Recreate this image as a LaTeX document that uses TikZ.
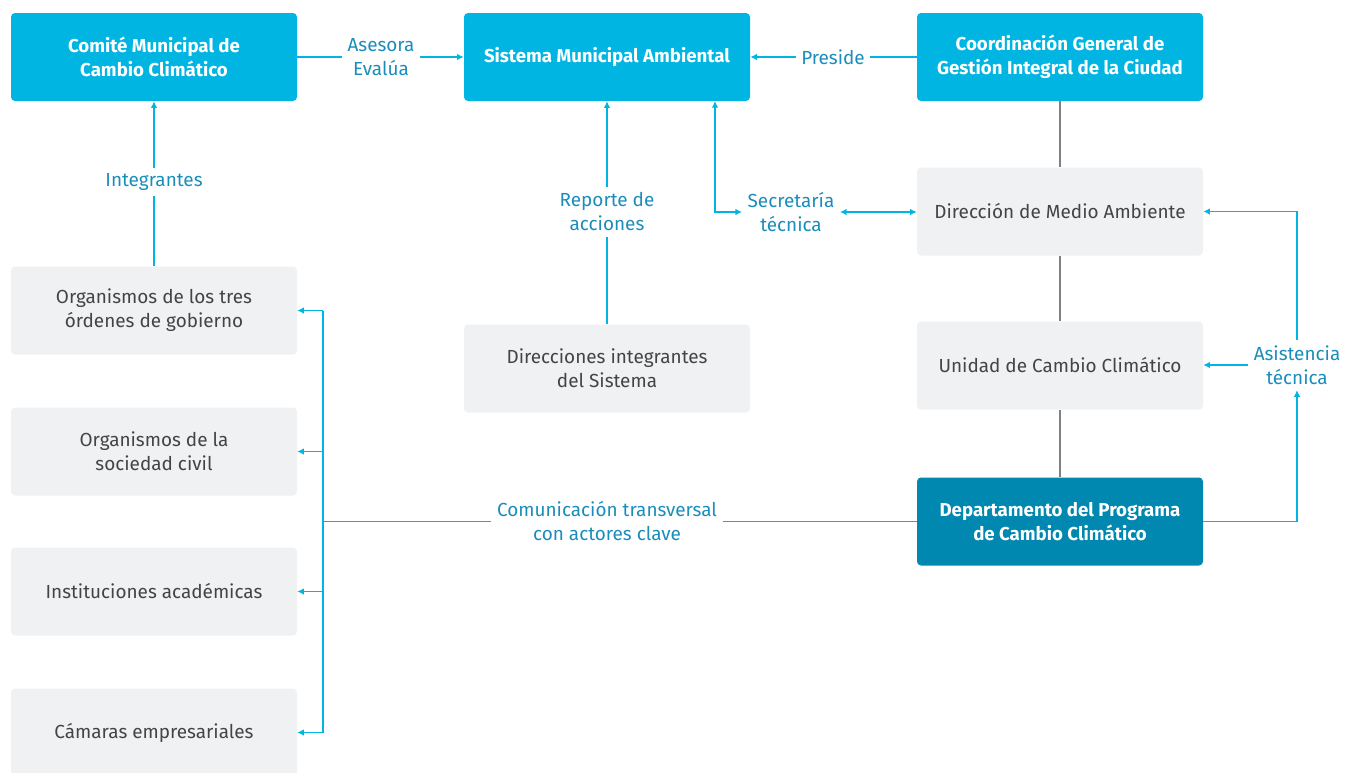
\documentclass[tikz,border=0pt]{standalone}
\usepackage{fontspec}
\setmainfont{Fira Sans}
\usetikzlibrary{arrows.meta}
\definecolor{cy}{HTML}{00B5E2}
\definecolor{dk}{HTML}{0088B0}
\definecolor{gb}{HTML}{F0F1F3}
\definecolor{lt}{HTML}{1A8DBB}
\definecolor{gt}{HTML}{444444}
\definecolor{gl}{HTML}{808080}
\begin{document}
\begin{tikzpicture}[x=0.75pt,y=-0.75pt,
  font=\fontsize{14.2}{18}\selectfont,
  box/.style={minimum width=214.5pt,minimum height=66pt,rounded corners=3pt,align=center,inner sep=0pt},
  topbox/.style={box,fill=cy,text=white,font=\fontsize{14}{18}\selectfont\bfseries},
  darkbox/.style={box,fill=dk,text=white,font=\fontsize{14}{18}\selectfont\bfseries},
  graybox/.style={box,fill=gb,text=gt},
  lab/.style={text=lt,align=center,inner sep=4pt},
  conn/.style={draw=cy,line width=1.1pt},
  arr/.style={conn,-{Latex[length=5pt,width=5pt]}},
  darr/.style={conn,{Latex[length=5pt,width=5pt]}-{Latex[length=5pt,width=5pt]}},
  gline/.style={draw=gl,line width=1.5pt}]
\useasboundingbox (0,0) rectangle (1359,772);
\begin{scope}
\clip (0,0) rectangle (1359,772);
\node[topbox] (comite) at (154,57) {Comité Municipal de\\Cambio Climático};
\node[topbox] (sistema) at (607,57) {Sistema Municipal Ambiental};
\node[topbox] (coord) at (1060,57) {Coordinación General de\\Gestión Integral de la Ciudad};
\node[graybox] (dir) at (1060,211.5) {Dirección de Medio Ambiente};
\node[graybox] (unidad) at (1060,365.5) {Unidad de Cambio Climático};
\node[darkbox] (depto) at (1060,521.5) {Departamento del Programa\\de Cambio Climático};
\node[graybox] (dirint) at (607,368.5) {Direcciones integrantes\\del Sistema};
\node[graybox] (org1) at (154,310.5) {Organismos de los tres\\órdenes de gobierno};
\node[graybox] (org2) at (154,451.5) {Organismos de la\\sociedad civil};
\node[graybox] (org3) at (154,591.5) {Instituciones académicas};
\node[graybox] (org4) at (154,732.5) {Cámaras empresariales};
\end{scope}

\node[lab] (asesora) at (381,57) {Asesora\\Evalúa};
\node[lab] (preside) at (833,57) {Preside};
\node[lab] (integ) at (154,182) {Integrantes};
\node[lab] (reporte) at (607,212) {Reporte de\\acciones};
\node[lab] (secr) at (791,212) {Secretaría\\técnica};
\node[lab] (asist) at (1297,365) {Asistencia\\técnica};
\node[lab] (com) at (607,521.5) {Comunicación transversal\\con actores clave};

\draw[conn] (comite.east) -- (asesora.west);
\draw[arr] (asesora.east) -- (sistema.west);
\draw[conn] (coord.west) -- (preside.east);
\draw[arr] (preside.west) -- (sistema.east);
\draw[conn] (org1.north) -- (integ.south);
\draw[arr] (integ.north) -- (comite.south);
\draw[conn] (dirint.north) -- (reporte.south);
\draw[arr] (reporte.north) -- (sistema.south);
\coordinate (s1) at (715,101);
\draw[darr] (s1) |- (secr.west);
\draw[darr] (secr.east) -- (secr.east -| dir.west);
\draw[gline] (coord.south) -- (dir.north);
\draw[gline] (dir.south) -- (unidad.north);
\draw[gline] (unidad.south) -- (depto.north);
\draw[arr] (depto.east) -| (asist.south);
\draw[arr] (asist.north) |- (dir.east);
\draw[arr] (asist.west) -- (asist.west -| unidad.east);
\coordinate (b1) at (323,310.5);
\coordinate (b4) at (323,732.5);
\draw[conn] (depto.west) -- (com.east);
\draw[conn] (com.west) -- (com.west -| b1);
\draw[conn] (b1) -- (b4);
\draw[arr] (b1) -- (org1.east);
\draw[arr] (org2.east -| b1) -- (org2.east);
\draw[arr] (org3.east -| b1) -- (org3.east);
\draw[arr] (b4) -- (org4.east);
\end{tikzpicture}
\end{document}
